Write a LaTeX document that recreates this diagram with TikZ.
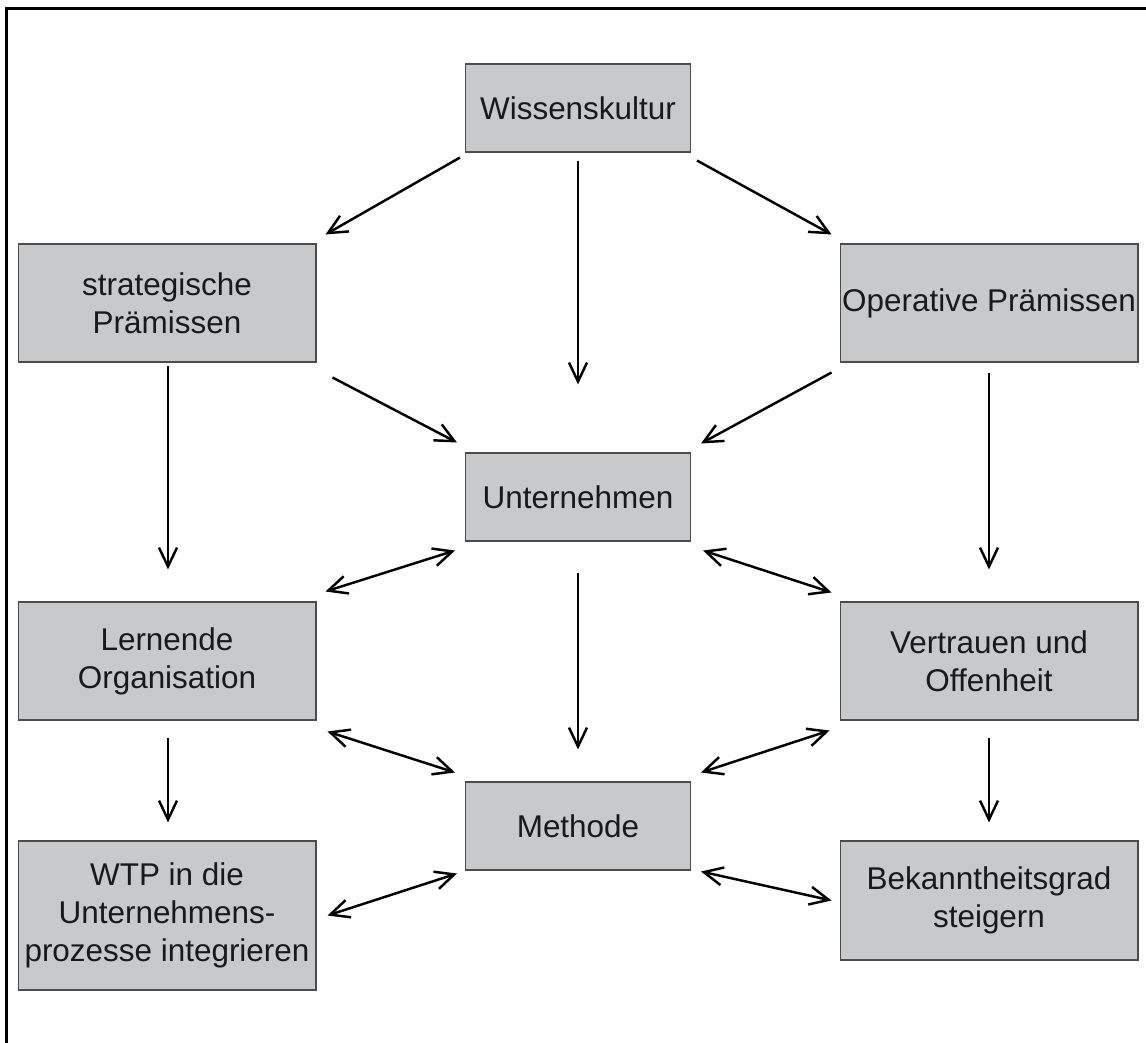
\documentclass[tikz,border=0pt]{standalone}
\usepackage{fontspec}
\setmainfont{Liberation Sans}
\usetikzlibrary{arrows.meta}
\definecolor{boxgray}{RGB}{200,201,203}

\begin{document}
\begin{tikzpicture}[x=0.02cm,y=-0.02cm]
\tikzstyle{box}=[draw=black!70,line width=0.6pt,fill=boxgray,inner sep=0pt,align=center,text=black!90,font=\fontsize{17.9}{21.6}\selectfont]
\tikzstyle{wide}=[box,minimum width=5.96cm,minimum height=2.36cm]
\tikzstyle{small}=[box,minimum width=4.5cm,minimum height=1.76cm]
\tikzstyle{arr}=[line width=1.4pt,-{Straight Barb[length=3.8mm,width=3.6mm]}]
\tikzstyle{biarr}=[line width=1.4pt,{Straight Barb[length=3.8mm,width=3.6mm]}-{Straight Barb[length=3.8mm,width=3.6mm]}]
\useasboundingbox (0,0) rectangle (1146,1043);
\draw [line width=1.7pt] (6.5,1043) -- (6.5,8.5) -- (1146,8.5);
\node [small] (kultur) at (578,108) {Wissenskultur};
\node [wide] (strat) at (167,303) {strategische\\Prämissen};
\node [wide] (oper) at (989,303) {Operative Prämissen};
\node [small] (unter) at (578,497) {Unternehmen};
\node [wide] (lern) at (167,661) {Lernende\\Organisation};
\node [wide] (vert) at (989,661) {Vertrauen und\\Offenheit};
\node [small] (meth) at (578,826) {Methode};
\node [wide,minimum height=2.98cm] (wtp) at (167,915.5) {WTP in die\\Unternehmens-\\prozesse integrieren};
\node [wide,minimum height=2.38cm] (bek) at (989,900.5) {Bekanntheitsgrad\\steigern};
\draw [arr] ([shift={(-5,5)}]kultur.south west) -- ([shift={(9,-9)}]strat.north east);
\draw [arr] ([shift={(0,8)}]kultur.south) -- ([shift={(0,-68)}]unter.north);
\draw [arr] ([shift={(6,8)}]kultur.south east) -- ([shift={(-8,-9)}]oper.north west);
\draw [arr] ([shift={(16,15)}]strat.south east) -- ([shift={(-8,-10)}]unter.north west);
\draw [arr] ([shift={(-8,10)}]oper.south west) -- ([shift={(10,-9)}]unter.north east);
\draw [arr] ([shift={(1,3)}]strat.south) -- ([shift={(1,-32)}]lern.north);
\draw [arr] ([shift={(0,10)}]oper.south) -- ([shift={(0,-32)}]vert.north);
\draw [biarr] ([shift={(-10,9)}]unter.south west) -- ([shift={(9,-10)}]lern.north east);
\draw [biarr] ([shift={(12,9)}]unter.south east) -- ([shift={(-8,-9)}]vert.north west);
\draw [arr] ([shift={(0,31)}]unter.south) -- ([shift={(0,-32)}]meth.north);
\draw [biarr] ([shift={(11,11)}]lern.south east) -- ([shift={(-10,-9)}]meth.north west);
\draw [biarr] ([shift={(-10,10)}]vert.south west) -- ([shift={(10,-9)}]meth.north east);
\draw [arr] ([shift={(1,17)}]lern.south) -- ([shift={(1,-18)}]wtp.north);
\draw [arr] ([shift={(0,17)}]vert.south) -- ([shift={(0,-18)}]bek.north);
\draw [biarr] ([shift={(-8,3)}]meth.south west) -- ([shift={(11,0)}]wtp.east);
\draw [biarr] ([shift={(10,1)}]meth.south east) -- ([shift={(-8,0)}]bek.west);
\end{tikzpicture}
\end{document}
